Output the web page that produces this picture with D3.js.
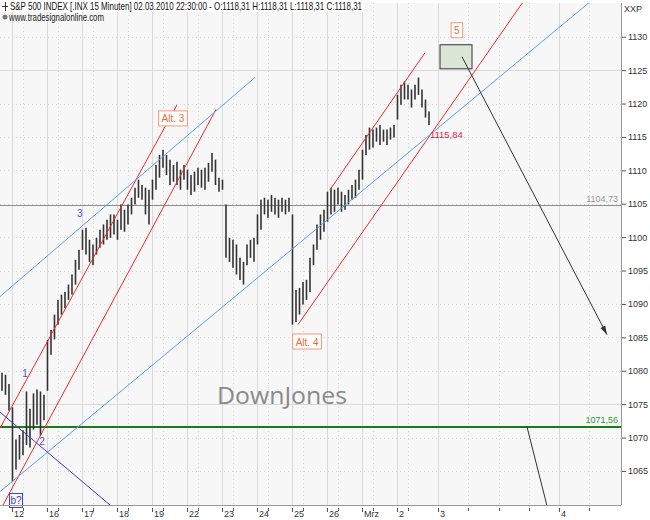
<!DOCTYPE html>
<html>
<head>
<meta charset="utf-8">
<script src="https://cdn.jsdelivr.net/npm/d3@7"></script>
<style>
  body { margin: 0; background: #fff; }
  svg { display: block; font-family: "Liberation Sans", Arial, sans-serif; }
</style>
</head>
<body>
<svg id="chart" width="650" height="520"></svg>
<script>
// 30-min bars, S&P 500, 12.02.2010 - 02.03.2010 (x in trading days from '12')
const barStart = -0.286
const barStep = 0.1
const highs = [1079.7, 1079.4, 1078.0, 1074.5, 1069.7, 1070.4, 1071.1, 1076.9, 1074.3, 1076.6,
  1077.2, 1076.9, 1076.4, 1084.6, 1086.1, 1088.4, 1090.6, 1091.4, 1091.8, 1092.9,
  1094.4, 1096.6, 1098.1, 1101.1, 1101.4, 1099.6, 1098.9, 1099.9, 1101.1, 1101.9,
  1102.6, 1103.4, 1103.4, 1102.6, 1104.9, 1104.1, 1104.9, 1105.9, 1107.4, 1108.6,
  1107.8, 1107.4, 1107.1, 1108.6, 1110.8, 1112.3, 1113.1, 1112.3, 1111.6, 1110.8,
  1111.3, 1110.1, 1110.8, 1110.1, 1109.3, 1109.8, 1110.4, 1110.1, 1110.4, 1111.1,
  1112.6, 1111.6, 1108.9, 1108.6, 1104.9, 1099.9, 1099.6, 1098.9, 1096.9, 1096.3,
  1098.9, 1099.6, 1099.9, 1103.4, 1105.6, 1105.9, 1105.6, 1106.3, 1105.9, 1105.6,
  1105.9, 1105.6, 1105.9, 1103.4, 1092.1, 1092.4, 1093.3, 1093.6, 1096.9, 1098.9,
  1101.9, 1103.4, 1104.1, 1106.8, 1107.4, 1107.1, 1107.4, 1106.8, 1106.3, 1107.1,
  1107.8, 1108.6, 1110.1, 1113.1, 1115.3, 1116.4, 1116.1, 1116.4, 1116.8, 1116.1,
  1116.1, 1116.4, 1116.8, 1121.3, 1122.8, 1123.3, 1122.8, 1122.1, 1122.8, 1123.9,
  1122.1, 1120.6, 1118.8]
const lows = [1077.0, 1076.4, 1074.0, 1063.4, 1065.2, 1066.7, 1067.4, 1068.9, 1068.5, 1071.2,
  1071.9, 1070.3, 1072.6, 1077.0, 1082.4, 1084.7, 1086.9, 1088.4, 1089.4, 1090.6,
  1091.4, 1092.9, 1095.1, 1098.1, 1097.4, 1096.3, 1095.8, 1097.4, 1098.4, 1098.9,
  1099.6, 1099.9, 1100.4, 1099.6, 1101.1, 1100.8, 1101.9, 1103.4, 1104.9, 1105.9,
  1105.6, 1103.4, 1101.9, 1105.6, 1107.1, 1108.9, 1110.4, 1109.3, 1107.8, 1108.3,
  1107.8, 1107.1, 1108.6, 1107.1, 1106.3, 1106.8, 1107.8, 1107.4, 1107.1, 1108.3,
  1109.8, 1107.8, 1106.8, 1107.1, 1096.9, 1096.3, 1095.4, 1094.4, 1093.6, 1092.9,
  1095.8, 1096.9, 1096.3, 1098.9, 1101.1, 1103.4, 1102.9, 1103.8, 1103.4, 1102.9,
  1103.8, 1103.4, 1103.8, 1086.9, 1087.3, 1088.4, 1089.9, 1090.6, 1091.8, 1095.8,
  1098.1, 1099.6, 1100.8, 1102.3, 1103.4, 1103.8, 1104.9, 1103.8, 1104.1, 1104.9,
  1105.6, 1105.9, 1107.1, 1108.6, 1112.3, 1113.1, 1113.4, 1114.3, 1113.8, 1114.3,
  1113.8, 1114.6, 1114.9, 1117.6, 1119.8, 1120.6, 1120.6, 1119.4, 1120.6, 1121.3,
  1119.4, 1117.9, 1116.8]

const dayTicks = [0, 1, 2, 3, 4, 5, 6, 7, 8, 9, 10, 11, 12.17, 15.63]
const dayLabels = ['12', '16', '17', '18', '19', '22', '23', '24', '25', '26', 'Mrz', '2', '3', '4']
const minorTicks = [0.31, 1.31, 2.31, 3.31, 4.31, 5.31, 6.31, 7.31, 8.31, 9.31, 10.31, 11.31, 13.03, 13.91, 14.77, 16.49]
const priceTicks = [1065, 1070, 1075, 1080, 1085, 1090, 1095, 1100, 1105, 1110, 1115, 1120, 1125, 1130]
const majorPrice = [1075, 1125]

// drawing tools: [day, price] pairs
const redLines = [[[-0.343, 1071.4], [4.714, 1119.8]], [[-0.257, 1059.9], [5.829, 1119.1]],
  [[8.171, 1086.9], [14.6, 1135.2]], [[9.086, 1107.1], [11.8, 1127.6]]]
const blueLines = [[[-0.343, 1091.1], [6.943, 1123.9]], [[-0.343, 1061.9], [16.6, 1135.6]]]
const navyLines = [[[-0.343, 1073.8], [2.8, 1059.9]]]
const arrowLine = [[12.857, 1127.0], [17.0, 1085.4]]
const plainArrow = [[14.714, 1071.6], [15.314, 1059.2]]
const targetBox = [[12.229, 1128.8], [13.143, 1125.2]]
const levelGray = 1104.73
const levelGreen = 1071.56
const waveNums = [['1', 0.37, 1079.6], ['2', 0.86, 1069.4], ['3', 1.94, 1103.6]]
const boxLabels = [['Alt. 3', 4.6, 1117.7], ['Alt. 4', 8.43, 1084.3], ['5', 12.71, 1130.9]]

const W = 650, H = 520
const pLeft = 0, pRight = 621, pTop = 3, pBottom = 505

const svg = d3.select('#chart')

const x = d3.scaleLinear().domain([-12 / 35, (pRight - 12) / 35]).range([pLeft, pRight])
const y = d3.scaleLinear().domain([1059.9, 1135.05]).range([pBottom, pTop])

svg.append('rect').attr('width', W).attr('height', H).attr('fill', '#fff')
svg.append('rect')
    .attr('x', pLeft).attr('y', pTop)
    .attr('width', pRight - pLeft).attr('height', pBottom - pTop)
    .attr('fill', '#f7f7f7')

svg.append('clipPath').attr('id', 'plot')
    .append('rect')
    .attr('x', pLeft).attr('y', pTop)
    .attr('width', pRight - pLeft).attr('height', pBottom - pTop)

// grid
const grid = svg.append('g')
grid.selectAll('.hg').data(priceTicks).join('line')
    .attr('x1', pLeft).attr('x2', pRight)
    .attr('y1', d => Math.round(y(d)) + 0.5).attr('y2', d => Math.round(y(d)) + 0.5)
    .attr('stroke', d => majorPrice.includes(d) ? '#dadada' : '#d4d4d4')
    .attr('stroke-dasharray', d => majorPrice.includes(d) ? null : '1 3')
grid.selectAll('.vg').data(dayTicks).join('line')
    .attr('x1', d => Math.round(x(d)) + 0.5).attr('x2', d => Math.round(x(d)) + 0.5)
    .attr('y1', pTop).attr('y2', pBottom)
    .attr('stroke', '#dadada')
grid.selectAll('.vm').data(minorTicks).join('line')
    .attr('x1', d => Math.round(x(d)) + 0.5).attr('x2', d => Math.round(x(d)) + 0.5)
    .attr('y1', pTop).attr('y2', pBottom)
    .attr('stroke', '#d4d4d4')
    .attr('stroke-dasharray', '1 3')

const plot = svg.append('g').attr('clip-path', 'url(#plot)')

// horizontal levels
plot.append('line')
    .attr('x1', pLeft).attr('x2', pRight)
    .attr('y1', y(levelGray)).attr('y2', y(levelGray))
    .attr('stroke', '#8c8c8c').attr('stroke-width', 1)
plot.append('line')
    .attr('x1', pLeft).attr('x2', pRight)
    .attr('y1', y(levelGreen)).attr('y2', y(levelGreen))
    .attr('stroke', '#1b7a1b').attr('stroke-width', 2)

// watermark
svg.append('text')
    .attr('x', 282).attr('y', 404)
    .attr('text-anchor', 'middle')
    .attr('font-size', 24)
    .attr('font-family', '"Open Sans", "DejaVu Sans", sans-serif')
    .attr('textLength', 130).attr('lengthAdjust', 'spacingAndGlyphs')
    .attr('fill', '#8a8a8a')
    .text('DownJones')

// bars
const bars = plot.append('g')
bars.selectAll('line').data(highs).join('line')
    .attr('x1', (d, i) => x(barStart + i * barStep))
    .attr('x2', (d, i) => x(barStart + i * barStep))
    .attr('y1', d => y(d))
    .attr('y2', (d, i) => y(lows[i]))
    .attr('stroke', '#333')
    .attr('stroke-width', 1.6)

const seg = d3.line().x(d => x(d[0])).y(d => y(d[1]))

plot.selectAll('.red').data(redLines).join('path')
    .attr('d', seg).attr('fill', 'none').attr('stroke', '#f22a2a').attr('stroke-width', 1)
plot.selectAll('.blue').data(blueLines).join('path')
    .attr('d', seg).attr('fill', 'none').attr('stroke', '#5b9ef0').attr('stroke-width', 1)
plot.selectAll('.navy').data(navyLines).join('path')
    .attr('d', seg).attr('fill', 'none').attr('stroke', '#3a3ad0').attr('stroke-width', 1)

// target box
plot.append('rect')
    .attr('x', x(targetBox[0][0])).attr('y', y(targetBox[0][1]))
    .attr('width', x(targetBox[1][0]) - x(targetBox[0][0]))
    .attr('height', y(targetBox[1][1]) - y(targetBox[0][1]))
    .attr('fill', '#dce6d6').attr('stroke', '#333').attr('stroke-width', 1)

// arrows
svg.append('defs').append('marker')
    .attr('id', 'head').attr('viewBox', '0 0 10 10')
    .attr('refX', 10).attr('refY', 5)
    .attr('markerWidth', 9).attr('markerHeight', 9)
    .attr('orient', 'auto')
    .append('path').attr('d', 'M0,2 L10,5 L0,8 Z').attr('fill', '#333')

plot.append('path').attr('d', seg(arrowLine))
    .attr('stroke', '#333').attr('fill', 'none').attr('marker-end', 'url(#head)')
plot.append('path').attr('d', seg(plainArrow))
    .attr('stroke', '#333').attr('fill', 'none')

// wave numbers
svg.selectAll('.wn').data(waveNums).join('text')
    .attr('x', d => x(d[1])).attr('y', d => y(d[2]))
    .attr('text-anchor', 'middle').attr('dominant-baseline', 'central')
    .attr('font-size', 10).attr('fill', '#5050e0')
    .text(d => d[0])

// b? box
const bq = svg.append('g').attr('transform', `translate(${x(0.114)},${y(1060.5)})`)
bq.append('rect').attr('x', -6.5).attr('y', -7.5).attr('width', 13).attr('height', 14)
    .attr('fill', '#f7f7f7').attr('stroke', '#4444cc')
bq.append('text').attr('text-anchor', 'middle').attr('dominant-baseline', 'central')
    .attr('font-size', 10).attr('fill', '#4444cc').text('b?')

// Alt labels
boxLabels.forEach(b => {
    const g = svg.append('g').attr('transform', `translate(${x(b[1])},${y(b[2])})`)
    const t = g.append('text').attr('text-anchor', 'middle').attr('dominant-baseline', 'central')
        .attr('font-size', 10).attr('fill', '#f06a3a').text(b[0])
    const w = t.node().getComputedTextLength() + 6
    g.insert('rect', 'text').attr('x', -w / 2).attr('y', -8).attr('width', w).attr('height', 15)
        .attr('fill', '#fff').attr('stroke', '#f39a78')
})

// value labels
svg.append('text').attr('x', x(11.94)).attr('y', y(1115.3))
    .attr('dominant-baseline', 'central')
    .attr('font-size', 9.5).attr('fill', '#e0284c').text('1115,84')
svg.append('text').attr('x', pRight - 3).attr('y', y(levelGray) - 4)
    .attr('text-anchor', 'end').attr('font-size', 9).attr('fill', '#999').text('1104,73')
svg.append('text').attr('x', pRight - 3).attr('y', y(levelGreen) - 4)
    .attr('text-anchor', 'end').attr('font-size', 9).attr('fill', '#2e9a2e').text('1071,56')

// frame
svg.append('line').attr('x1', pRight + 0.5).attr('x2', pRight + 0.5).attr('y1', pTop).attr('y2', pBottom)
    .attr('stroke', '#999')
svg.append('line').attr('x1', pLeft).attr('x2', pRight).attr('y1', pBottom + 0.5).attr('y2', pBottom + 0.5)
    .attr('stroke', '#999')

// y axis
const yAxis = d3.axisRight(y).tickValues(priceTicks).tickSize(4).tickPadding(2).tickFormat(d3.format('d'))
const ya = svg.append('g').attr('transform', `translate(${pRight + 1},0)`).call(yAxis)
ya.select('.domain').remove()
ya.selectAll('line').attr('stroke', '#555')
ya.selectAll('text').attr('font-size', 9).attr('fill', '#333').attr('font-family', '"Liberation Sans", Arial, sans-serif')
svg.append('text').attr('x', 624).attr('y', 12).attr('font-size', 9).attr('fill', '#333').text('XXP')

// x axis
const xa = svg.append('g').attr('transform', `translate(0,${pBottom + 1})`)
xa.selectAll('.mj').data(dayTicks).join('line')
    .attr('x1', d => Math.round(x(d)) + 0.5).attr('x2', d => Math.round(x(d)) + 0.5)
    .attr('y1', 2).attr('y2', 6).attr('stroke', '#555')
xa.selectAll('.mn').data(minorTicks).join('line')
    .attr('x1', d => Math.round(x(d)) + 0.5).attr('x2', d => Math.round(x(d)) + 0.5)
    .attr('y1', 2).attr('y2', 5).attr('stroke', '#555')
xa.selectAll('text').data(dayLabels).join('text')
    .attr('x', (d, i) => x(dayTicks[i]) + 2).attr('y', 11)
    .attr('font-size', 9).attr('fill', '#333')
    .text(d => d)

// title
svg.append('rect').attr('x', 0).attr('y', 0).attr('width', 364).attr('height', 12).attr('fill', '#fff')
svg.append('path').attr('d', 'M2,6.5 H8 M5.5,2 V11').attr('stroke', '#333')
svg.append('text').attr('x', 10).attr('y', 10)
    .attr('font-size', 11).attr('fill', '#111')
    .attr('textLength', 352).attr('lengthAdjust', 'spacingAndGlyphs')
    .text('S&P 500 INDEX [.INX  15 Minuten] 02.03.2010 22:30:00 - O:1118,31 H:1118,31 L:1118,31 C:1118,31')
svg.append('circle').attr('cx', 5).attr('cy', 17).attr('r', 2.5).attr('fill', '#777')
svg.append('text').attr('x', 9).attr('y', 21)
    .attr('font-size', 10).attr('fill', '#222')
    .attr('textLength', 95).attr('lengthAdjust', 'spacingAndGlyphs')
    .text('www.tradesignalonline.com')
</script>
</body>
</html>
